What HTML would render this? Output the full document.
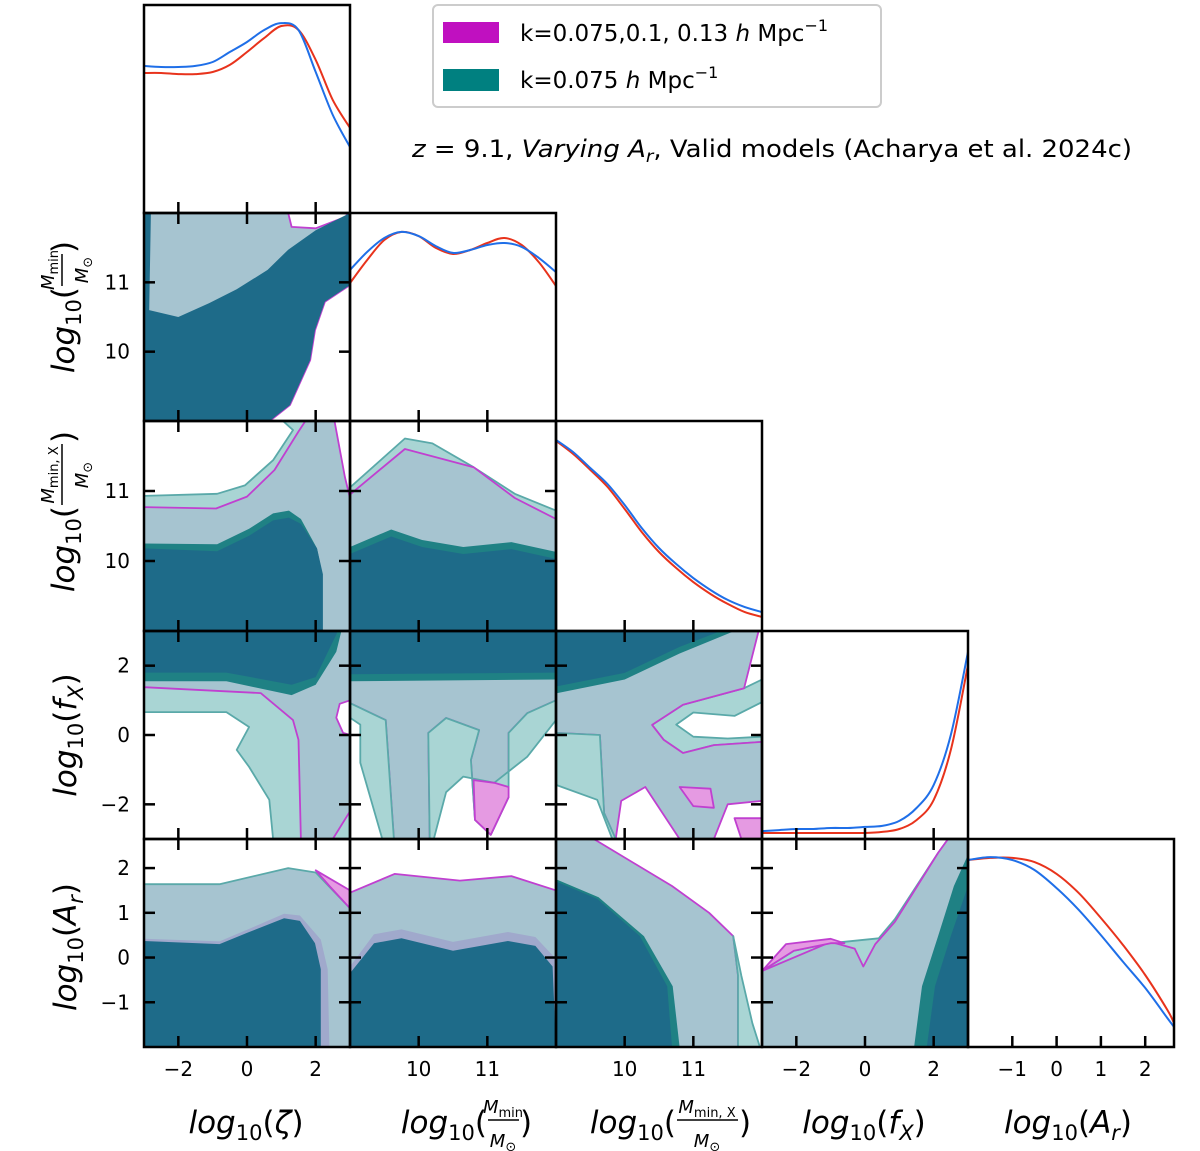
<!DOCTYPE html>
<html><head><meta charset="utf-8"><style>
html,body{margin:0;padding:0;background:#fff;}
svg{display:block;font-family:"DejaVu Sans","Liberation Sans",sans-serif;}
</style></head><body>
<svg id="chart" width="1200" height="1151" viewBox="0 0 1200 1151" xmlns="http://www.w3.org/2000/svg">
<g id="contours"></g><g id="lines"></g><g id="frames"></g><g id="ticks"></g>
<g>
<rect x="433" y="5" width="448" height="102" rx="5" fill="#fff" stroke="#cccccc" stroke-width="2"/>
<rect x="443" y="22" width="56" height="21" fill="#c010c0"/>
<text x="520" y="41" font-size="23">k=0.075,0.1, 0.13 <tspan font-style="italic">h</tspan> Mpc<tspan font-size="16" dy="-10">−1</tspan></text>
<rect x="443" y="69" width="56" height="22" fill="#008080"/>
<text x="520" y="88" font-size="23">k=0.075 <tspan font-style="italic">h</tspan> Mpc<tspan font-size="16" dy="-10">−1</tspan></text>
</g>
<text x="412" y="157" font-size="24" textLength="720" lengthAdjust="spacingAndGlyphs"><tspan font-style="italic">z</tspan> = 9.1, <tspan font-style="italic">Varying A</tspan><tspan font-style="italic" font-size="17" dy="5">r</tspan><tspan dy="-5">, Valid models (Acharya et al. 2024c)</tspan></text>

<!-- x axis labels -->
<text x="246" y="1133" font-size="31" text-anchor="middle"><tspan font-style="italic">log</tspan><tspan font-size="21" dy="7">10</tspan><tspan dy="-7">(</tspan><tspan font-style="italic">ζ</tspan>)</text>
<g>
<text x="487" y="1133" font-size="31" text-anchor="end"><tspan font-style="italic">log</tspan><tspan font-size="21" dy="7">10</tspan><tspan dy="-7">(</tspan></text>
<text x="503" y="1113" font-size="18" text-anchor="middle"><tspan font-style="italic">M</tspan><tspan font-size="13" dy="4">min</tspan></text>
<line x1="488" y1="1120" x2="519" y2="1120" stroke="#000" stroke-width="1.5"/>
<text x="503" y="1147" font-size="18" text-anchor="middle"><tspan font-style="italic">M</tspan><tspan font-size="13" dy="4">⊙</tspan></text>
<text x="520" y="1133" font-size="31">)</text></g>
<g>
<text x="676" y="1133" font-size="31" text-anchor="end"><tspan font-style="italic">log</tspan><tspan font-size="21" dy="7">10</tspan><tspan dy="-7">(</tspan></text>
<text x="707" y="1113" font-size="18" text-anchor="middle"><tspan font-style="italic">M</tspan><tspan font-size="13" dy="4">min, X</tspan></text>
<line x1="677" y1="1120" x2="738" y2="1120" stroke="#000" stroke-width="1.5"/>
<text x="707" y="1147" font-size="18" text-anchor="middle"><tspan font-style="italic">M</tspan><tspan font-size="13" dy="4">⊙</tspan></text>
<text x="739" y="1133" font-size="31">)</text></g>
<text x="864" y="1133" font-size="31" text-anchor="middle"><tspan font-style="italic">log</tspan><tspan font-size="21" dy="7">10</tspan><tspan dy="-7">(</tspan><tspan font-style="italic">f</tspan><tspan font-style="italic" font-size="21" dy="7">X</tspan><tspan dy="-7">)</tspan></text>
<text x="1068" y="1133" font-size="31" text-anchor="middle"><tspan font-style="italic">log</tspan><tspan font-size="21" dy="7">10</tspan><tspan dy="-7">(</tspan><tspan font-style="italic">A</tspan><tspan font-style="italic" font-size="21" dy="7">r</tspan><tspan dy="-7">)</tspan></text>

<!-- y axis labels -->
<g transform="translate(66,317) rotate(-90)">
<text x="30" y="8" font-size="31" text-anchor="end"><tspan font-style="italic">log</tspan><tspan font-size="21" dy="7">10</tspan><tspan dy="-7">(</tspan></text>
<text x="47" y="-12" font-size="18" text-anchor="middle"><tspan font-style="italic">M</tspan><tspan font-size="13" dy="4">min</tspan></text>
<line x1="31" y1="-4" x2="63" y2="-4" stroke="#000" stroke-width="1.5"/>
<text x="47" y="22" font-size="18" text-anchor="middle"><tspan font-style="italic">M</tspan><tspan font-size="13" dy="4">⊙</tspan></text>
<text x="64" y="8" font-size="31">)</text></g>
<g transform="translate(66,526) rotate(-90)">
<text x="20" y="8" font-size="31" text-anchor="end"><tspan font-style="italic">log</tspan><tspan font-size="21" dy="7">10</tspan><tspan dy="-7">(</tspan></text>
<text x="51" y="-12" font-size="18" text-anchor="middle"><tspan font-style="italic">M</tspan><tspan font-size="13" dy="4">min, X</tspan></text>
<line x1="21" y1="-4" x2="82" y2="-4" stroke="#000" stroke-width="1.5"/>
<text x="51" y="22" font-size="18" text-anchor="middle"><tspan font-style="italic">M</tspan><tspan font-size="13" dy="4">⊙</tspan></text>
<text x="83" y="8" font-size="31">)</text></g>
<g transform="translate(66,735) rotate(-90)">
<text x="0" y="10" font-size="31" text-anchor="middle"><tspan font-style="italic">log</tspan><tspan font-size="21" dy="7">10</tspan><tspan dy="-7">(</tspan><tspan font-style="italic">f</tspan><tspan font-style="italic" font-size="21" dy="7">X</tspan><tspan dy="-7">)</tspan></text></g>
<g transform="translate(66,947) rotate(-90)">
<text x="0" y="10" font-size="31" text-anchor="middle"><tspan font-style="italic">log</tspan><tspan font-size="21" dy="7">10</tspan><tspan dy="-7">(</tspan><tspan font-style="italic">A</tspan><tspan font-style="italic" font-size="21" dy="7">r</tspan><tspan dy="-7">)</tspan></text></g>
</svg>
<script>
// ---- parameters & ticks ----
const paramNames = ['zeta','Mmin','MminX','fX','Ar'];
const paramRanges = [[-3,3],[9,12],[9,12],[-3,3],[-2,2.65]];
const tickValues = [[-2,0,2],[10,11],[10,11],[-2,0,2],[-1,0,1,2]];
const tickLabels = [['−2','0','2'],['10','11'],['10','11'],['−2','0','2'],['−1','0','1','2']];

// ---- 1D marginals (normalized density) ----
const zetaXs = [-3,-2.5,-2,-1.5,-1,-0.5,0,0.5,1,1.5,2,2.5,3];
const zetaRed = [0.673,0.673,0.668,0.668,0.678,0.712,0.774,0.841,0.899,0.880,0.736,0.543,0.409];
const zetaBlue = [0.707,0.702,0.702,0.707,0.726,0.774,0.822,0.880,0.913,0.880,0.678,0.471,0.317];
const mminXs = [9,9.25,9.5,9.75,10,10.25,10.5,10.75,11,11.25,11.5,11.75,12];
const mminRed = [0.663,0.774,0.870,0.909,0.889,0.832,0.803,0.822,0.856,0.880,0.846,0.764,0.649];
const mminBlue = [0.726,0.813,0.880,0.909,0.889,0.841,0.808,0.822,0.846,0.856,0.837,0.784,0.716];
const mminxXs = [9,9.25,9.5,9.75,10,10.25,10.5,10.75,11,11.25,11.5,11.75,12];
const mminxRed = [0.905,0.843,0.767,0.686,0.581,0.471,0.376,0.300,0.233,0.176,0.129,0.090,0.067];
const mminxBlue = [0.910,0.852,0.776,0.700,0.600,0.490,0.395,0.319,0.252,0.195,0.148,0.114,0.090];
const fxXs = [-3,-2.5,-2,-1.5,-1,-0.5,0,0.5,1,1.5,2,2.5,3];
const fxRed = [0.029,0.029,0.029,0.029,0.029,0.029,0.029,0.034,0.048,0.091,0.188,0.428,0.837];
const fxBlue = [0.038,0.043,0.048,0.048,0.053,0.053,0.058,0.063,0.087,0.149,0.260,0.500,0.899];
const arXs = [-2,-1.5,-1,-0.5,0,0.5,1,1.5,2,2.5,2.65];
const arRed = [0.899,0.909,0.909,0.889,0.832,0.740,0.620,0.490,0.346,0.178,0.115];
const arBlue = [0.899,0.913,0.899,0.851,0.764,0.659,0.538,0.409,0.284,0.139,0.096];

// ---- 2D contour vertices (data units: [x, y]) ----
const zetaMmin_white = [[0.66,9],[1.25,9.23],[1.84,9.88],[1.98,10.31],[2.27,10.72],[3,10.96],[3,9]];
const zetaMmin_hole = [[1.2,12],[1.3,11.8],[2.0,11.78],[2.9,11.95],[2.9,12]];
const zetaMmin_dark = [[-3,9],[-3,12],[-2.8,12],[-2.85,10.6],[-2,10.5],[-1.1,10.7],[-0.3,10.9],[0.6,11.18],[1.2,11.47],[2.0,11.75],[3,12],[3,10.96],[2.27,10.72],[1.98,10.31],[1.84,9.88],[1.25,9.23],[0.66,9]];

const zetaMminx_light = [[-3,9],[-3,10.93],[-0.87,10.96],[-0.06,11.08],[0.76,11.44],[1.34,11.87],[1.05,12],[2.27,12],[2.65,11.03],[3,10.56],[3,9]];
const zetaMminx_mag = [[-3,10.77],[-0.9,10.75],[0,10.92],[0.8,11.3],[1.5,11.85],[1.7,12],[2.55,12],[2.85,11.2],[3,10.9]];
const zetaMminx_tealdark = [[-3,9],[-3,10.25],[-0.87,10.24],[0.06,10.46],[0.76,10.68],[1.22,10.72],[1.57,10.6],[2.04,10.18],[2.2,9.8],[2.2,9]];
const zetaMminx_dark = [[-3,9],[-3,10.18],[-0.87,10.14],[0.06,10.36],[0.76,10.58],[1.22,10.62],[1.57,10.53],[2.04,10.18],[2.21,9.81],[2.21,9]];

const mminMminx_light = [[9,9],[9,11.05],[9.8,11.75],[10.2,11.68],[10.8,11.34],[11.4,10.96],[12,10.72],[12,9]];
const mminMminx_mag = [[9,10.95],[9.8,11.6],[10.8,11.34],[11.4,10.9],[12,10.6]];
const mminMminx_tealdark = [[9,9],[9,10.2],[9.6,10.45],[10.05,10.3],[10.65,10.2],[11.35,10.27],[12,10.13],[12,9]];
const mminMminx_dark = [[9,9],[9,10.1],[9.6,10.35],[10.05,10.2],[10.65,10.1],[11.35,10.17],[12,10.03],[12,9]];

const zetaFx_teal = [[-3,3],[3,3],[3,-3],[0.76,-3],[0.65,-1.87],[0.06,-0.92],[-0.3,-0.43],[0.06,0.23],[-0.6,0.66],[-3,0.66]];
const zetaFx_light = [[-3,3],[3,3],[3,1.0],[2.7,0.5],[3,0.0],[3,-2.2],[2.5,-3],[1.57,-3],[1.5,-0.14],[1.34,0.43],[0.4,1.21],[-3,1.38]];
const zetaFx_white = [[3,1.0],[2.7,0.9],[2.6,0.5],[2.8,0.06],[3,0.0]];
const zetaFx_tealdark = [[-3,3],[-3,1.55],[-0.6,1.55],[1.3,1.15],[2.0,1.45],[2.6,2.4],[2.75,3]];
const zetaFx_dark = [[-3,3],[-3,1.8],[-0.6,1.8],[1.3,1.45],[2.0,1.67],[2.65,3]];

const mminFx_light = [[9,3],[12,3],[12,1.0],[11.58,0.63],[11.31,0.06],[11.31,-1.79],[11.05,-2.88],[10.82,-2.45],[10.76,-0.72],[10.88,0.14],[10.4,0.49],[10.14,0.06],[10.16,-3],[9.64,-3],[9.52,0.43],[9,0.92]];
const mminFx_teal1 = [[9,0.92],[9.52,0.43],[9.64,-3],[9.47,-3],[9.15,-0.8],[9.15,0.3],[9,0.5]];
const mminFx_teal2 = [[10.16,-3],[10.14,0.06],[10.4,0.49],[10.88,0.14],[10.76,-0.72],[10.82,-2.45],[11.05,-2.88],[11.31,-1.79],[11.31,0.06],[11.58,0.63],[12,1.0],[12,0.43],[11.58,-0.63],[11.1,-1.38],[10.65,-1.2],[10.4,-1.65],[10.22,-3]];
const mminFx_pink = [[10.8,-1.3],[10.82,-2.45],[11.05,-2.88],[11.31,-1.79],[11.31,-1.5],[11.1,-1.38]];
const mminFx_tealdark = [[9,3],[9,1.55],[12,1.6],[12,3]];
const mminFx_dark = [[9,3],[9,1.75],[12,1.8],[12,3]];

const mminxFx_teal = [[11.74,1.35],[10.85,0.87],[10.4,0.29],[10.57,-0.14],[10.85,-0.52],[11.3,-0.29],[12,-0.2],[12,1.6]];
const mminxFx_light = [[9,3],[11.95,3],[11.74,1.35],[10.85,0.87],[10.4,0.29],[10.57,-0.14],[10.85,-0.52],[11.3,-0.29],[12,-0.2],[12,-1.9],[11.5,-2.0],[11.3,-3],[10.8,-3],[10.3,-1.5],[9.95,-1.9],[9.87,-3],[9.7,-2.25],[9.64,0.0],[9.0,0.06]];
const mminxFx_teal2 = [[9,0.06],[9.64,0.0],[9.7,-2.25],[9.87,-3],[9.82,-3],[9.6,-1.87],[9.0,-1.44]];
const mminxFx_white = [[10.75,0.3],[11.0,0.65],[11.6,0.55],[12,0.95],[12,-0.05],[11.5,-0.1],[11.0,-0.05]];
const mminxFx_pink1 = [[11.6,-2.4],[12,-2.4],[12,-3],[11.7,-3]];
const mminxFx_pink2 = [[10.8,-1.5],[11.25,-1.55],[11.3,-2.1],[11.0,-2.05]];
const mminxFx_tealdark = [[9,3],[9,1.2],[10,1.6],[10.8,2.35],[11.6,3]];
const mminxFx_dark = [[9,3],[9,1.4],[10,1.79],[10.8,2.54],[11.4,3]];

const zetaAr_light = [[-3,-2],[-3,1.64],[-0.8,1.64],[1.2,2.0],[2.0,1.9],[3,1.1],[3,-2]];
const zetaAr_pink = [[2.0,1.95],[3,1.5],[3,1.1],[2.4,1.6]];
const zetaAr_lav = [[-3,-2],[-3,0.42],[-0.8,0.36],[0,0.62],[1.08,0.98],[1.54,0.94],[2.15,0.4],[2.35,-0.26],[2.4,-2]];
const zetaAr_dark = [[-3,-2],[-3,0.37],[-0.8,0.3],[0,0.55],[1.08,0.88],[1.54,0.82],[1.98,0.32],[2.15,-0.26],[2.15,-2]];

const mminAr_light = [[9,-2],[9,1.45],[9.65,1.87],[10.6,1.72],[11.35,1.82],[12,1.5],[12,-2]];
const mminAr_lav = [[9,-2],[9,-0.2],[9.35,0.52],[9.75,0.63],[10.5,0.35],[11.3,0.57],[11.7,0.46],[11.98,0.0],[12,-2]];
const mminAr_dark = [[9,-2],[9,-0.35],[9.35,0.32],[9.75,0.43],[10.5,0.15],[11.3,0.37],[11.7,0.26],[11.95,-0.2],[12,-2]];

const mminxAr_light = [[9,-2],[9,2.65],[9.55,2.65],[10.69,1.6],[11.23,1.0],[11.58,0.48],[11.65,-0.4],[11.65,-2]];
const mminxAr_teal = [[11.58,0.48],[11.7,-0.41],[11.86,-1.47],[11.97,-2],[11.65,-2],[11.65,-0.4]];
const mminxAr_tealdark = [[9,-2],[9,1.75],[9.62,1.35],[10.28,0.48],[10.7,-0.64],[10.8,-2]];
const mminxAr_dark = [[9,-2],[9,1.7],[9.6,1.31],[10.22,0.48],[10.62,-0.64],[10.69,-2]];

const fxAr_teal = [[-3,-2],[-3,-0.3],[-2.07,0.15],[-1.0,0.32],[0.4,0.43],[0.87,0.86],[2.13,2.34],[2.42,2.65],[3,2.65],[3,-2]];
const fxAr_light = [[-3,-2],[-3,-0.3],[-1,0.35],[-0.3,0.2],[-0.05,-0.2],[0.3,0.3],[0.87,0.8],[2.13,2.34],[2.42,2.65],[3,2.65],[3,-2]];
const fxAr_pink = [[-3,-0.3],[-2.3,0.3],[-1.0,0.42],[-0.6,0.32],[-1.0,0.32],[-2.07,0.15]];
const fxAr_tealdark = [[1.43,-2],[1.66,-0.64],[2.13,0.48],[2.59,1.6],[3,2.3],[3,-2]];
const fxAr_dark = [[1.8,-2],[2.04,-0.64],[2.5,0.48],[3,1.6],[3,-2]];

// ---- layout ----
const L = [144,350,556,762,968];
const T = [5,213,421,631,839];
const Hs = [208,208,210,208,208];
const W = 206;
const NS = 'http://www.w3.org/2000/svg';
const C = {light:'#a6c4d0', teal:'#a9d5d4', dark:'#1e6b89', tdark:'#1f8184', pink:'#e59ae2', lav:'#a0a9cc', white:'#ffffff'};
const LINE = {mag:'#c040d0', teal:'#5aa9a9'};

function sx(c,v){const r=paramRanges[c];return L[c]+(v-r[0])/(r[1]-r[0])*W;}
function sy(r,v){const g=paramRanges[r];return T[r]+Hs[r]-(v-g[0])/(g[1]-g[0])*Hs[r];}
function pts(c,r,arr){return arr.map(p=>sx(c,p[0]).toFixed(1)+','+sy(r,p[1]).toFixed(1)).join(' ');}

const contourG = document.getElementById('contours');
const defs = document.createElementNS(NS,'defs');
document.getElementById('chart').insertBefore(defs, contourG);
function clipFor(c,r){
  const id='clip-'+c+'-'+r;
  if(!document.getElementById(id)){
    const cp=document.createElementNS(NS,'clipPath'); cp.setAttribute('id',id);
    const rc=document.createElementNS(NS,'rect');
    rc.setAttribute('x',L[c]); rc.setAttribute('y',T[r]); rc.setAttribute('width',W); rc.setAttribute('height',Hs[r]);
    cp.appendChild(rc); defs.appendChild(cp);
  }
  return 'url(#'+id+')';
}
function poly(c,r,arr,fill,stroke,name){
  const p=document.createElementNS(NS,'polygon');
  p.setAttribute('points',pts(c,r,arr));
  p.setAttribute('fill',fill);
  p.setAttribute('stroke',stroke||'none');
  p.setAttribute('stroke-width','1.8');
  p.setAttribute('stroke-linejoin','round');
  p.setAttribute('clip-path',clipFor(c,r));
  
  
  contourG.appendChild(p);
}
function pline(c,r,arr,stroke,name){
  const p=document.createElementNS(NS,'polyline');
  p.setAttribute('points',pts(c,r,arr));
  p.setAttribute('fill','none');
  p.setAttribute('stroke',stroke);
  p.setAttribute('stroke-width','1.8');
  p.setAttribute('stroke-linejoin','round');
  p.setAttribute('clip-path',clipFor(c,r));
  
  
  contourG.appendChild(p);
}

poly(0,1,[[-3,9],[-3,12],[3,12],[3,9]],C.light,null,'contour-zeta-mmin-2sigma');
poly(0,1,zetaMmin_hole,C.white,LINE.mag,'contour-zeta-mmin-hole');
poly(0,1,zetaMmin_white,C.white,LINE.mag,'contour-zeta-mmin-empty');
poly(0,1,zetaMmin_dark,C.dark,null,'contour-zeta-mmin-1sigma');
poly(0,2,zetaMminx_light,C.teal,LINE.teal,'contour-zeta-mminx-teal-2sigma');
poly(0,2,[[-3,9]].concat(zetaMminx_mag).concat([[3,9]]),C.light,null,'contour-zeta-mminx-2sigma');
pline(0,2,zetaMminx_mag,LINE.mag,'contour-zeta-mminx-magenta-line');
poly(0,2,zetaMminx_tealdark,C.tdark,null,'contour-zeta-mminx-teal-1sigma');
poly(0,2,zetaMminx_dark,C.dark,null,'contour-zeta-mminx-1sigma');
poly(1,2,mminMminx_light,C.teal,LINE.teal,'contour-mmin-mminx-teal-2sigma');
poly(1,2,[[9,9]].concat(mminMminx_mag).concat([[12,9]]),C.light,null,'contour-mmin-mminx-2sigma');
pline(1,2,mminMminx_mag,LINE.mag,'contour-mmin-mminx-magenta-line');
poly(1,2,mminMminx_tealdark,C.tdark,null,'contour-mmin-mminx-teal-1sigma');
poly(1,2,mminMminx_dark,C.dark,null,'contour-mmin-mminx-1sigma');
poly(0,3,zetaFx_teal,C.teal,LINE.teal,'contour-zeta-fx-teal-2sigma');
poly(0,3,zetaFx_light,C.light,LINE.mag,'contour-zeta-fx-2sigma');
poly(0,3,zetaFx_white,C.white,LINE.mag,'contour-zeta-fx-hole');
poly(0,3,zetaFx_tealdark,C.tdark,null,'contour-zeta-fx-teal-1sigma');
poly(0,3,zetaFx_dark,C.dark,null,'contour-zeta-fx-1sigma');
poly(1,3,mminFx_light,C.light,LINE.mag,'contour-mmin-fx-2sigma');
poly(1,3,mminFx_teal1,C.teal,LINE.teal,'contour-mmin-fx-teal-left');
poly(1,3,mminFx_teal2,C.teal,LINE.teal,'contour-mmin-fx-teal-mid');
poly(1,3,mminFx_pink,C.pink,LINE.mag,'contour-mmin-fx-magenta-only');
poly(1,3,mminFx_tealdark,C.tdark,null,'contour-mmin-fx-teal-1sigma');
poly(1,3,mminFx_dark,C.dark,null,'contour-mmin-fx-1sigma');
poly(2,3,mminxFx_teal,C.teal,LINE.teal,'contour-mminx-fx-teal-right');
poly(2,3,mminxFx_light,C.light,LINE.mag,'contour-mminx-fx-2sigma');
poly(2,3,mminxFx_teal2,C.teal,LINE.teal,'contour-mminx-fx-teal-left');
poly(2,3,mminxFx_white,C.white,LINE.teal,'contour-mminx-fx-hole');
poly(2,3,mminxFx_pink1,C.pink,LINE.mag,'contour-mminx-fx-magenta-only-1');
poly(2,3,mminxFx_pink2,C.pink,LINE.mag,'contour-mminx-fx-magenta-only-2');
poly(2,3,mminxFx_tealdark,C.tdark,null,'contour-mminx-fx-teal-1sigma');
poly(2,3,mminxFx_dark,C.dark,null,'contour-mminx-fx-1sigma');
poly(0,4,zetaAr_light,C.light,LINE.teal,'contour-zeta-ar-2sigma');
poly(0,4,zetaAr_pink,C.pink,LINE.mag,'contour-zeta-ar-magenta-only');
poly(0,4,zetaAr_lav,C.lav,null,'contour-zeta-ar-magenta-1sigma');
poly(0,4,zetaAr_dark,C.dark,null,'contour-zeta-ar-1sigma');
poly(1,4,mminAr_light,C.light,LINE.mag,'contour-mmin-ar-2sigma');
poly(1,4,mminAr_lav,C.lav,null,'contour-mmin-ar-magenta-1sigma');
poly(1,4,mminAr_dark,C.dark,null,'contour-mmin-ar-1sigma');
poly(2,4,mminxAr_light,C.light,LINE.mag,'contour-mminx-ar-2sigma');
poly(2,4,mminxAr_teal,C.teal,LINE.teal,'contour-mminx-ar-teal-only');
poly(2,4,mminxAr_tealdark,C.tdark,null,'contour-mminx-ar-teal-1sigma');
poly(2,4,mminxAr_dark,C.dark,null,'contour-mminx-ar-1sigma');
poly(3,4,fxAr_teal,C.teal,LINE.teal,'contour-fx-ar-teal-2sigma');
poly(3,4,fxAr_light,C.light,LINE.mag,'contour-fx-ar-2sigma');
poly(3,4,fxAr_pink,C.pink,LINE.mag,'contour-fx-ar-magenta-only');
poly(3,4,fxAr_tealdark,C.tdark,null,'contour-fx-ar-teal-1sigma');
poly(3,4,fxAr_dark,C.dark,null,'contour-fx-ar-1sigma');

// ---- 1D marginal lines (smooth Catmull-Rom) ----
const lineG = document.getElementById('lines');
function smoothPath(P){
  let d='M'+P[0][0].toFixed(1)+','+P[0][1].toFixed(1);
  for(let i=0;i<P.length-1;i++){
    const p0=P[Math.max(0,i-1)],p1=P[i],p2=P[i+1],p3=P[Math.min(P.length-1,i+2)];
    const c1=[p1[0]+(p2[0]-p0[0])/6,p1[1]+(p2[1]-p0[1])/6];
    const c2=[p2[0]-(p3[0]-p1[0])/6,p2[1]-(p3[1]-p1[1])/6];
    d+=' C'+c1[0].toFixed(1)+','+c1[1].toFixed(1)+' '+c2[0].toFixed(1)+','+c2[1].toFixed(1)+' '+p2[0].toFixed(1)+','+p2[1].toFixed(1);
  }
  return d;
}
function marg(i,xs,ds,color,name){
  const p=document.createElementNS(NS,'path');
  const P=xs.map((x,k)=>[sx(i,x),T[i]+Hs[i]-ds[k]*Hs[i]]);
  p.setAttribute('d',smoothPath(P));
  p.setAttribute('fill','none');
  p.setAttribute('stroke',color);
  p.setAttribute('stroke-width','2');
  p.setAttribute('clip-path',clipFor(i,i));
  
  
  lineG.appendChild(p);
}
marg(0,zetaXs,zetaRed,'#e8331c','marginal-zeta-multi-k');
marg(0,zetaXs,zetaBlue,'#1f6fe8','marginal-zeta-single-k');
marg(1,mminXs,mminRed,'#e8331c','marginal-mmin-multi-k');
marg(1,mminXs,mminBlue,'#1f6fe8','marginal-mmin-single-k');
marg(2,mminxXs,mminxRed,'#e8331c','marginal-mminx-multi-k');
marg(2,mminxXs,mminxBlue,'#1f6fe8','marginal-mminx-single-k');
marg(3,fxXs,fxRed,'#e8331c','marginal-fx-multi-k');
marg(3,fxXs,fxBlue,'#1f6fe8','marginal-fx-single-k');
marg(4,arXs,arRed,'#e8331c','marginal-ar-multi-k');
marg(4,arXs,arBlue,'#1f6fe8','marginal-ar-single-k');

// ---- frames & ticks ----
const frameG = document.getElementById('frames');
const tickG = document.getElementById('ticks');
function ln(g,x1,y1,x2,y2,w,name){
  const l=document.createElementNS(NS,'line');
  l.setAttribute('x1',x1);l.setAttribute('y1',y1);l.setAttribute('x2',x2);l.setAttribute('y2',y2);
  l.setAttribute('stroke','#000');l.setAttribute('stroke-width',w);
  
  
  g.appendChild(l);
}
function txt(x,y,s,anchor,name){
  const t=document.createElementNS(NS,'text');
  t.setAttribute('x',x);t.setAttribute('y',y);t.setAttribute('font-size','20');t.setAttribute('text-anchor',anchor);
  t.textContent=s;
  
  
  tickG.appendChild(t);
}
const TL = 11;
for(let r=0;r<5;r++){
  for(let c=0;c<=r;c++){
    const x0=L[c],y0=T[r],h=Hs[r];
    const fr=document.createElementNS(NS,'rect');
    fr.setAttribute('x',x0);fr.setAttribute('y',y0);fr.setAttribute('width',W);fr.setAttribute('height',h);
    fr.setAttribute('fill','none');fr.setAttribute('stroke','#000');fr.setAttribute('stroke-width','2.5');
    
    
    frameG.appendChild(fr);
    tickValues[c].forEach(v=>{
      const x=sx(c,v);
      ln(tickG,x,y0+h,x,y0+h-TL,2.5,'x-tick');
      if(c!==r) ln(tickG,x,y0,x,y0+TL,2.5,'x-tick-top');
    });
    if(c!==r){
      tickValues[r].forEach(v=>{
        const y=sy(r,v);
        ln(tickG,x0,y,x0+TL,y,2.5,'y-tick');
        ln(tickG,x0+W,y,x0+W-TL,y,2.5,'y-tick-right');
      });
    }
  }
}
for(let r=1;r<5;r++){
  tickValues[r].forEach((v,k)=>{ txt(130,sy(r,v)+7,tickLabels[r][k],'end','y-tick-label-'+paramNames[r]); });
}
for(let c=0;c<5;c++){
  tickValues[c].forEach((v,k)=>{ txt(sx(c,v),1076,tickLabels[c][k],'middle','x-tick-label-'+paramNames[c]); });
}
</script>
</body></html>
